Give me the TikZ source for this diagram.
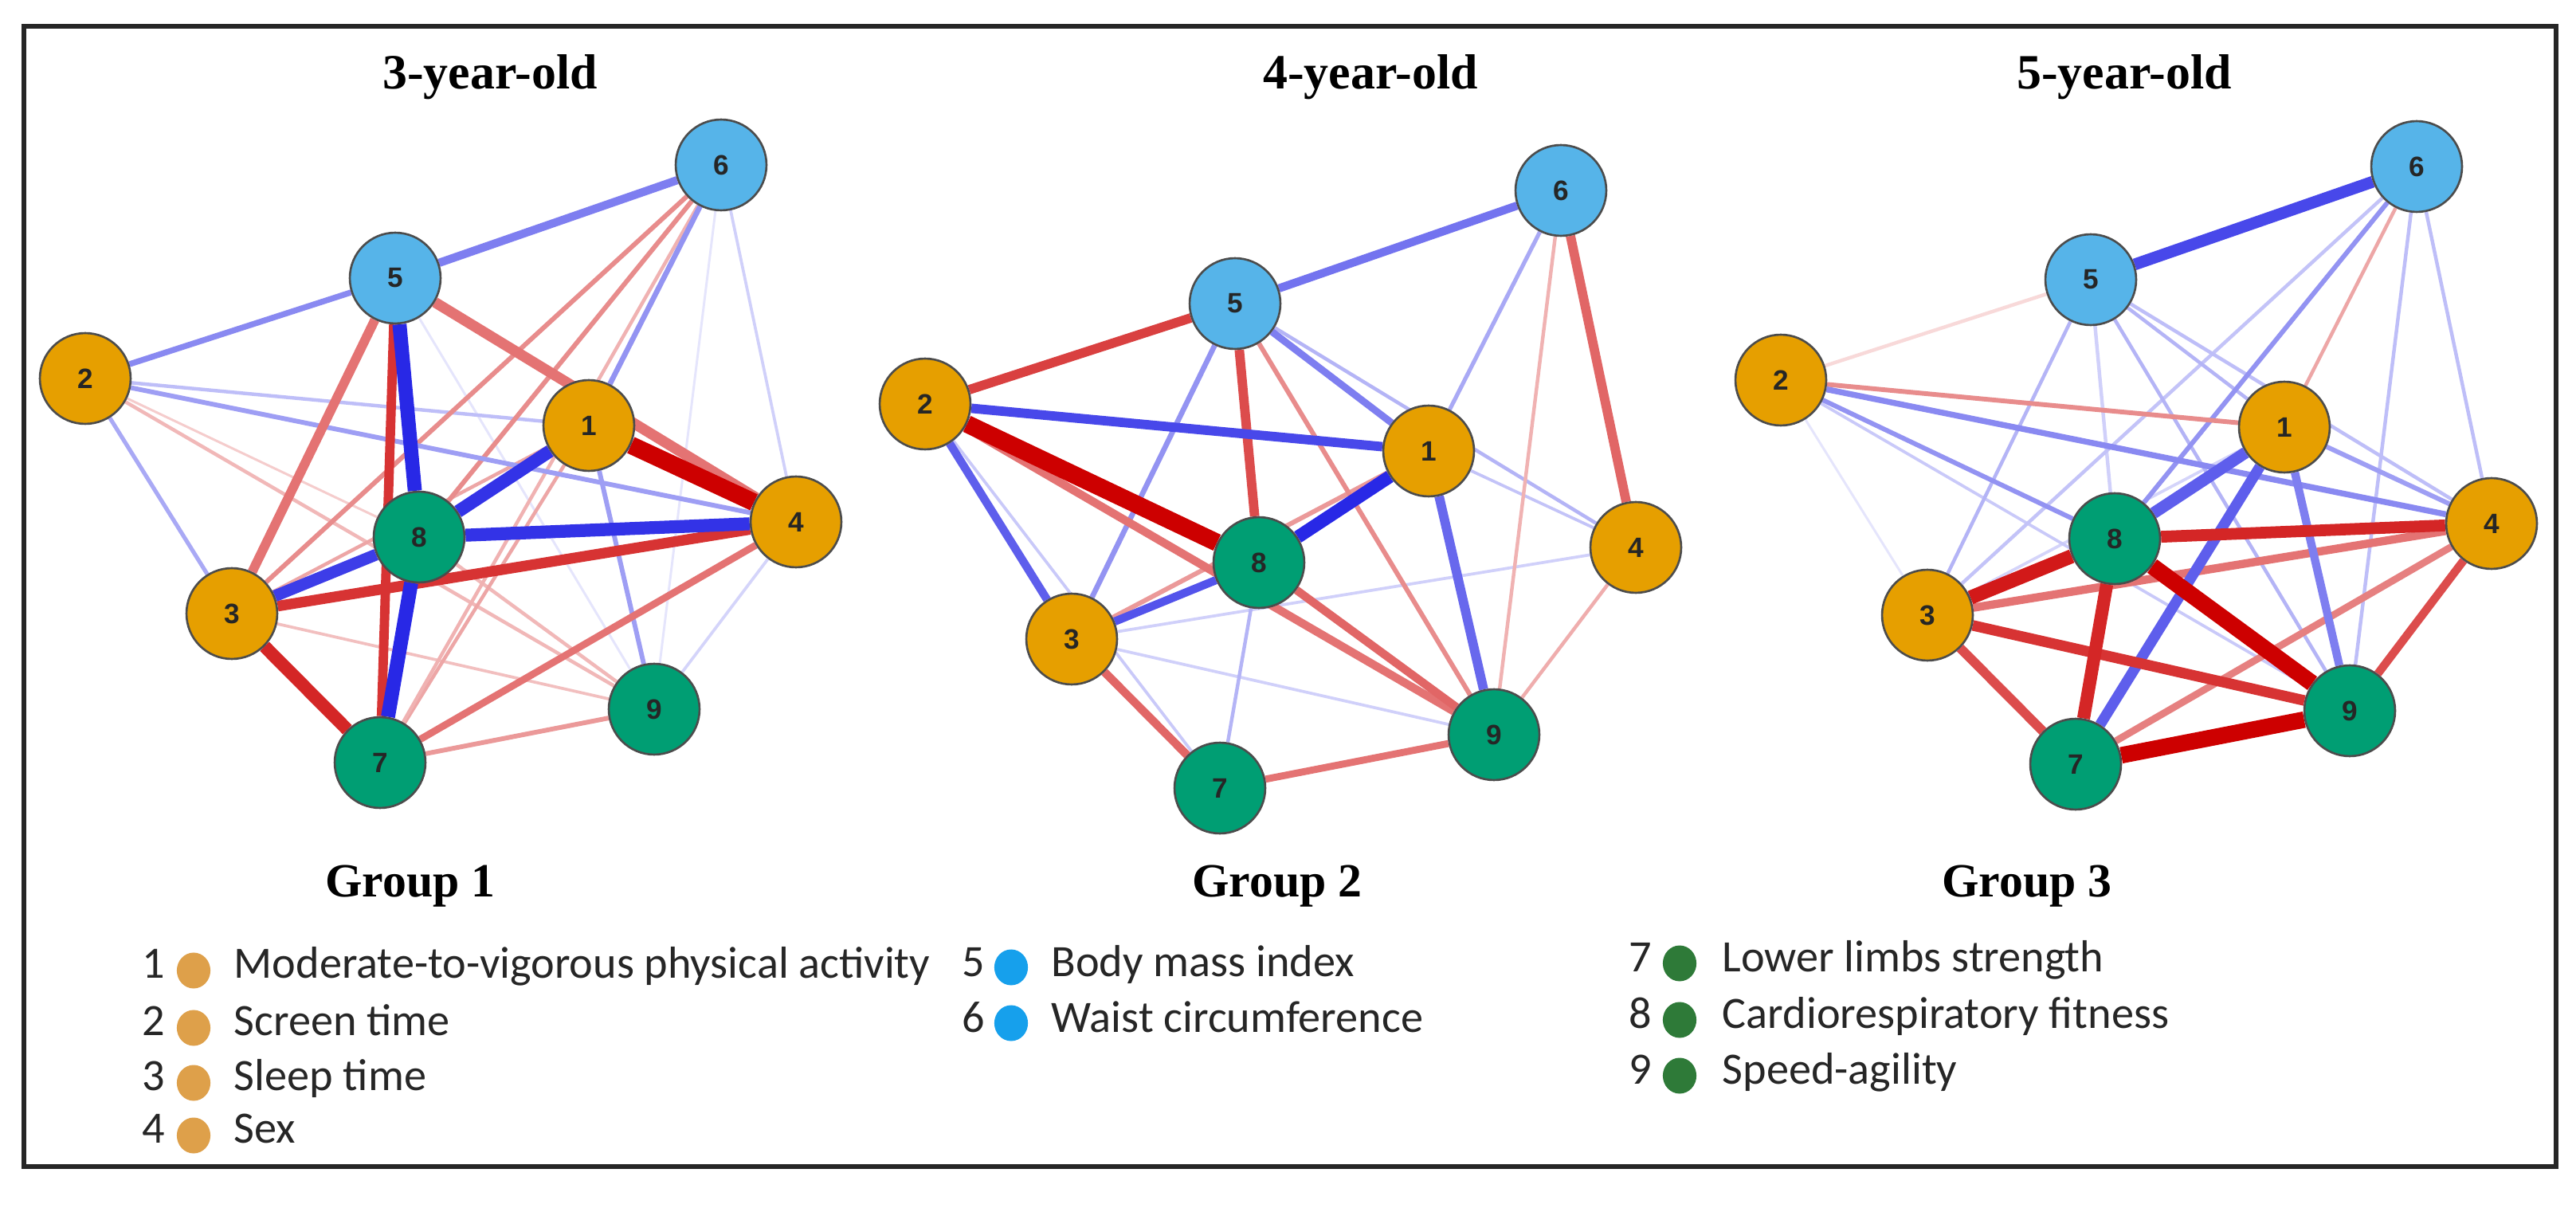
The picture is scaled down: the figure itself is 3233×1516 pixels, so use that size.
\documentclass[tikz,border=0pt]{standalone}
\usepackage{fontspec}
\setmainfont{Liberation Serif}
\newfontfamily\legfont{Carlito}
\newfontfamily\numfont{Liberation Sans}
\usetikzlibrary{backgrounds,shapes.geometric}
\definecolor{pos}{RGB}{40,40,230}
\definecolor{neg}{RGB}{205,0,0}
\definecolor{org}{HTML}{E69F00}
\definecolor{sky}{HTML}{56B4E9}
\definecolor{grn}{HTML}{009E73}
\definecolor{lorg}{RGB}{222,160,74}
\definecolor{lsky}{RGB}{22,160,236}
\definecolor{lgrn}{RGB}{46,122,56}
\newcommand\edg[4]{\draw[ed={#3}{#4}] (#1) -- (#2);}
\newcommand\mknodes[3]{%
  \begin{scope}[shift={(#2,#3)}]
    \node[nd, fill=org] (#11) at (739,534) {1};
    \node[nd, fill=org] (#12) at (107,475) {2};
    \node[nd, fill=org] (#13) at (291,770) {3};
    \node[nd, fill=org] (#14) at (999,655) {4};
    \node[nd, fill=sky] (#15) at (496,349) {5};
    \node[nd, fill=sky] (#16) at (905,207) {6};
    \node[nd, fill=grn] (#17) at (477,957) {7};
    \node[nd, fill=grn] (#18) at (526,674) {8};
    \node[nd, fill=grn] (#19) at (821,890) {9};
  \end{scope}}
\begin{document}
\begin{tikzpicture}[x=0.01cm,y=-0.01cm,
  nd/.style={circle, draw=black!70, line width=0.75pt, minimum size=32.4pt,
    inner sep=0pt, font=\numfont\bfseries\fontsize{10}{12}\selectfont, text=black!85},
  ed/.style 2 args={draw=#1, line width=#2*0.42pt},
  ttl/.style={font=\bfseries\fontsize{17.6}{21}\selectfont, anchor=base, inner sep=0pt},
  grp/.style={font=\bfseries\fontsize{17}{20}\selectfont, anchor=base, inner sep=0pt},
  lnum/.style={font=\legfont\fontsize{16}{19}\selectfont, anchor=base, inner sep=0pt, text=black!85},
  ltxt/.style={font=\legfont\fontsize{16}{19}\selectfont, anchor=base west, inner sep=0pt, text=black!85},
  ldot/.style={ellipse, inner sep=0pt, minimum width=12pt, minimum height=12.8pt, draw=none}]
\useasboundingbox (0,0) rectangle (3233,1516);

% nodes of the three panels
\mknodes{A}{0}{0}
\mknodes{B}{1054}{32}
\mknodes{C}{2128}{2}

\begin{pgfonlayer}{background}
\fill[white] (0,0) rectangle (3233,1516);
% ---------- panel A : 3-year-old ----------
\edg{A5}{A9}{pos!12}{2}
\edg{A6}{A9}{pos!12}{2}
\edg{A6}{A4}{pos!22}{2.5}
\edg{A9}{A4}{pos!20}{2.5}
\edg{A2}{A8}{neg!20}{2}
\edg{A3}{A9}{neg!25}{2.5}
\edg{A8}{A9}{neg!28}{3}
\edg{A2}{A9}{neg!28}{3}
\edg{A2}{A1}{pos!30}{3}
\edg{A2}{A3}{pos!40}{3.5}
\edg{A7}{A1}{neg!35}{3}
\edg{A6}{A7}{neg!30}{3}
\edg{A3}{A1}{neg!35}{3}
\edg{A6}{A8}{neg!45}{4}
\edg{A6}{A3}{neg!45}{4}
\edg{A7}{A9}{neg!40}{4}
\edg{A1}{A9}{pos!45}{4}
\edg{A6}{A1}{pos!50}{4.5}
\edg{A2}{A4}{pos!45}{4}
\edg{A2}{A5}{pos!55}{5}
\edg{A5}{A6}{pos!60}{7}
\edg{A7}{A4}{neg!55}{6}
\edg{A5}{A3}{neg!55}{8}
\edg{A5}{A4}{neg!55}{9}
\edg{A5}{A7}{neg!80}{8}
\edg{A3}{A4}{neg!80}{9}
\edg{A3}{A7}{neg!85}{11}
\edg{A3}{A8}{pos!90}{10}
\edg{A8}{A4}{pos!95}{11}
\edg{A1}{A8}{pos!95}{11}
\edg{A5}{A8}{pos!100}{12}
\edg{A8}{A7}{pos!100}{12}
\edg{A1}{A4}{neg!100}{15}
% ---------- panel B : 4-year-old ----------
\edg{B3}{B4}{pos!22}{2.5}
\edg{B3}{B9}{pos!22}{2.5}
\edg{B2}{B7}{pos!25}{2.5}
\edg{B1}{B4}{pos!28}{2.5}
\edg{B5}{B4}{pos!35}{3}
\edg{B6}{B9}{neg!30}{3}
\edg{B4}{B9}{neg!32}{3}
\edg{B8}{B7}{pos!35}{3}
\edg{B6}{B1}{pos!40}{3.5}
\edg{B3}{B1}{neg!40}{4}
\edg{B5}{B9}{neg!45}{4}
\edg{B5}{B3}{pos!50}{4.5}
\edg{B5}{B1}{pos!60}{6}
\edg{B7}{B9}{neg!55}{6}
\edg{B2}{B9}{neg!55}{7}
\edg{B8}{B9}{neg!60}{7}
\edg{B3}{B7}{neg!60}{7}
\edg{B6}{B4}{neg!60}{8}
\edg{B5}{B6}{pos!65}{7}
\edg{B2}{B3}{pos!75}{7}
\edg{B5}{B8}{neg!70}{8}
\edg{B2}{B5}{neg!75}{8}
\edg{B3}{B8}{pos!80}{7}
\edg{B1}{B9}{pos!70}{8}
\edg{B2}{B1}{pos!85}{8}
\edg{B1}{B8}{pos!100}{11}
\edg{B2}{B8}{neg!100}{15}
% ---------- panel C : 5-year-old ----------
\edg{C2}{C3}{pos!12}{2}
\edg{C2}{C5}{neg!15}{3}
\edg{C3}{C1}{pos!20}{2.5}
\edg{C5}{C8}{pos!22}{3}
\edg{C2}{C9}{pos!25}{2.5}
\edg{C6}{C3}{pos!28}{3}
\edg{C6}{C9}{pos!30}{3}
\edg{C6}{C4}{pos!30}{3}
\edg{C5}{C4}{pos!30}{3}
\edg{C5}{C3}{pos!35}{3}
\edg{C5}{C1}{pos!35}{3}
\edg{C5}{C9}{pos!35}{3}
\edg{C6}{C1}{neg!35}{3}
\edg{C1}{C4}{pos!45}{4}
\edg{C6}{C8}{pos!50}{4}
\edg{C2}{C8}{pos!50}{4}
\edg{C2}{C1}{neg!45}{4}
\edg{C2}{C4}{pos!55}{5}
\edg{C7}{C4}{neg!50}{6}
\edg{C3}{C4}{neg!55}{7}
\edg{C1}{C9}{pos!60}{7}
\edg{C9}{C4}{neg!70}{7}
\edg{C3}{C7}{neg!70}{8}
\edg{C1}{C7}{pos!75}{9}
\edg{C1}{C8}{pos!75}{10}
\edg{C3}{C9}{neg!80}{9}
\edg{C5}{C6}{pos!85}{10}
\edg{C8}{C4}{neg!85}{10}
\edg{C8}{C7}{neg!85}{11}
\edg{C3}{C8}{neg!90}{12}
\edg{C8}{C9}{neg!100}{14}
\edg{C7}{C9}{neg!100}{14}
\end{pgfonlayer}

% frame
\draw[line width=1.5pt, black!85] (30,33) rectangle (3208,1464);

% titles
\node[ttl] (tA) at (615,112) {3-year-old};
\node[ttl] (tB) at (1720,112) {4-year-old};
\node[ttl] (tC) at (2666,112) {5-year-old};
\node[grp] (gA) at (515,1125) {Group 1};
\node[grp] (gB) at (1603,1125) {Group 2};
\node[grp] (gC) at (2544,1125) {Group 3};

% legend group 1
\node[lnum] (n1) at (193,1227) {1};
\node[ldot, fill=lorg] (d1) at (243,1218) {};
\node[ltxt] (l1) at (293,1227) {Moderate-to-vigorous physical activity};
\node[lnum] (n2) at (193,1299) {2};
\node[ldot, fill=lorg] (d2) at (243,1290) {};
\node[ltxt] (l2) at (293,1299) {Screen time};
\node[lnum] (n3) at (193,1368) {3};
\node[ldot, fill=lorg] (d3) at (243,1359) {};
\node[ltxt] (l3) at (293,1368) {Sleep time};
\node[lnum] (n4) at (193,1434) {4};
\node[ldot, fill=lorg] (d4) at (243,1425) {};
\node[ltxt] (l4) at (293,1434) {Sex};
% legend group 2
\node[lnum] (n5) at (1222,1225) {5};
\node[ldot, fill=lsky] (d5) at (1269,1214) {};
\node[ltxt] (l5) at (1319,1225) {Body mass index};
\node[lnum] (n6) at (1222,1295) {6};
\node[ldot, fill=lsky] (d6) at (1269,1284) {};
\node[ltxt] (l6) at (1319,1295) {Waist circumference};
% legend group 3
\node[lnum] (n7) at (2059,1219) {7};
\node[ldot, fill=lgrn] (d7) at (2108,1209) {};
\node[ltxt] (l7) at (2161,1219) {Lower limbs strength};
\node[lnum] (n8) at (2059,1290) {8};
\node[ldot, fill=lgrn] (d8) at (2108,1280) {};
\node[ltxt] (l8) at (2161,1290) {Cardiorespiratory fitness};
\node[lnum] (n9) at (2059,1360) {9};
\node[ldot, fill=lgrn] (d9) at (2108,1350) {};
\node[ltxt] (l9) at (2161,1360) {Speed-agility};
\end{tikzpicture}
\end{document}
